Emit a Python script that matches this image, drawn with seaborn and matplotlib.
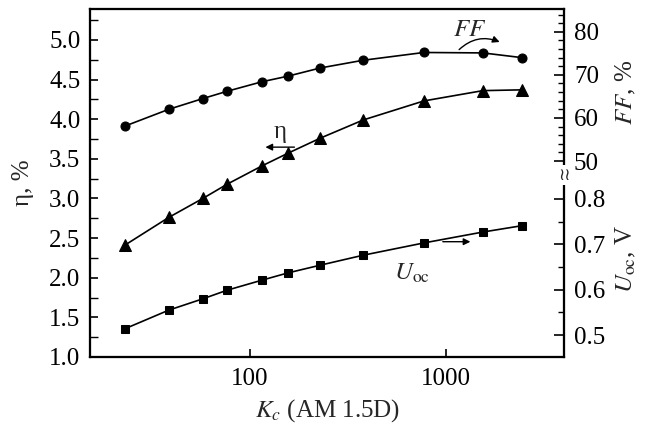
import numpy as np
import matplotlib
matplotlib.use("Agg")
import matplotlib.pyplot as plt
import seaborn as sns
from matplotlib.ticker import FixedLocator, NullLocator
from matplotlib.patches import FancyArrowPatch

# --- data ---
kc = [23, 38.5, 57.5, 76.5, 115, 156, 228, 378, 770, 1540, 2440]
eta = [2.41, 2.76, 3.00, 3.18, 3.41, 3.57, 3.76, 3.99, 4.23, 4.36, 4.37]      # %
ff = [58.1, 62.0, 64.5, 66.2, 68.4, 69.7, 71.6, 73.4, 75.2, 75.1, 74.0]       # %
uoc = [0.514, 0.555, 0.580, 0.599, 0.621, 0.637, 0.654, 0.676, 0.703, 0.727, 0.741]  # V

eta_ticks = [1.0, 1.5, 2.0, 2.5, 3.0, 3.5, 4.0, 4.5, 5.0]
ff_ticks = [50, 60, 70, 80]
uoc_ticks = [0.5, 0.6, 0.7, 0.8]

sns.set_theme(style="ticks")
plt.rcParams['font.family'] = ['Liberation Serif', 'DejaVu Serif']
plt.rcParams['mathtext.fontset'] = 'stix'
plt.rcParams['axes.edgecolor'] = 'black'
plt.rcParams['axes.linewidth'] = 1.5

FS = 18
fig = plt.figure(figsize=(6.53, 4.28), dpi=100)
ax = fig.add_axes([0.138, 0.166, 0.726, 0.813])
ax.set_xscale('log')
ax.set_xlim(15.3, 4000)
ax.set_ylim(1.0, 5.39)

# two right-hand scales sharing one spine (broken axis)
ax_ff = ax.twinx()
ax_u = ax.twinx()
ax_ff.set_ylim(4.5, 85.3)
ax_u.set_ylim(0.452, 1.218)

line_kw = dict(color='black', linewidth=1.2, markeredgecolor='black')
sns.lineplot(x=kc, y=eta, marker='^', markersize=8, ax=ax, **line_kw)
sns.lineplot(x=kc, y=ff, marker='o', markersize=6.5, ax=ax_ff, **line_kw)
sns.lineplot(x=kc, y=uoc, marker='s', markersize=6, ax=ax_u, **line_kw)

# left axis
ax.yaxis.set_major_locator(FixedLocator(eta_ticks))
ax.yaxis.set_minor_locator(FixedLocator(np.arange(1.25, 5.4, 0.5)))
ax.set_yticklabels([f"{t:.1f}" for t in eta_ticks])
ax.xaxis.set_major_locator(FixedLocator([100, 1000]))
ax.xaxis.set_minor_locator(NullLocator())
ax.set_xticklabels(['100', '1000'])
ax.tick_params(which='both', direction='in', labelsize=FS, colors='black', right=False)
ax.tick_params(which='major', length=6, width=1.2)
ax.tick_params(which='minor', length=6, width=1.0)
ax.tick_params(axis='y', pad=7)
ax.tick_params(axis='x', pad=8)

# right axes
ax_ff.yaxis.set_major_locator(FixedLocator(ff_ticks))
ax_ff.yaxis.set_minor_locator(FixedLocator([52, 54, 56, 58, 62, 64, 66, 68, 72, 74, 76, 78, 82, 84]))
ax_ff.set_yticklabels([str(t) for t in ff_ticks])
ax_u.yaxis.set_major_locator(FixedLocator(uoc_ticks))
ax_u.yaxis.set_minor_locator(FixedLocator([0.55, 0.65, 0.75]))
ax_u.set_yticklabels([f"{t:.1f}" for t in uoc_ticks])
for a in (ax_ff, ax_u):
    a.tick_params(which='both', direction='in', labelsize=FS, colors='black', pad=7)
    a.tick_params(which='major', length=7, width=1.2)
    a.tick_params(which='minor', length=4, width=1.0)

ax.set_xlabel(r'$K_c$ (AM 1.5D)', fontsize=FS)
ax.xaxis.set_label_coords(0.5, -0.115)
ax.set_ylabel('η, %', fontsize=FS)
ax.yaxis.set_label_coords(-0.118, 0.5)
ax_ff.set_ylabel(r'$FF$, %', fontsize=FS)
ax_ff.yaxis.set_label_coords(1.105, 0.76)
ax_u.set_ylabel(r'$U_{\mathrm{oc}}$, V', fontsize=FS)
ax_u.yaxis.set_label_coords(1.105, 0.28)

# axis break mark on the right spine
ax_u.text(1.0, 0.523, '≀≀', transform=ax.transAxes, fontsize=12,
          ha='center', va='center', family='DejaVu Sans',
          bbox=dict(boxstyle='square,pad=0.05', fc='white', ec='none'),
          zorder=10, clip_on=False)

# curve labels with arrows
ax.text(142, 3.84, 'η', fontsize=FS, ha='center', va='center')
ax.annotate('', xy=(116, 3.647), xytext=(174, 3.647),
            arrowprops=dict(arrowstyle='-|>', color='black', lw=1.0, mutation_scale=10))
ax.text(1325, 5.13, r'$FF$', fontsize=FS, ha='center', va='center')
ax.add_patch(FancyArrowPatch((1138, 4.853), (1932, 4.96), connectionstyle='arc3,rad=-0.35',
                             arrowstyle='-|>', color='black', lw=1.0, mutation_scale=10))
ax.text(671, 2.05, r'$U_{\mathrm{oc}}$', fontsize=FS, ha='center', va='center')
ax.annotate('', xy=(1374, 2.454), xytext=(931, 2.454),
            arrowprops=dict(arrowstyle='-|>', color='black', lw=1.0, mutation_scale=10))

fig.savefig('out.png', dpi=100)
